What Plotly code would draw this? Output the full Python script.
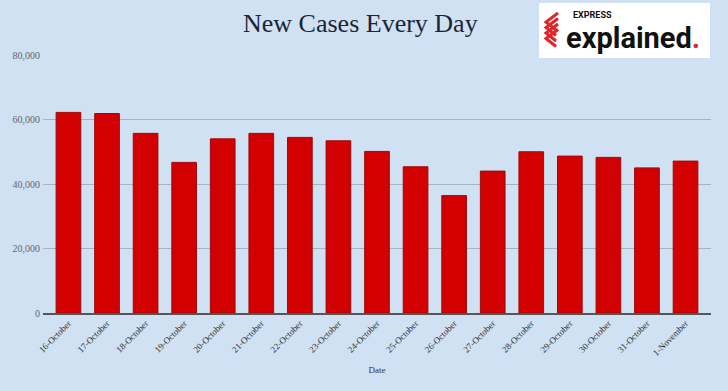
import plotly.graph_objects as go

dates = ["16-October", "17-October", "18-October", "19-October", "20-October",
         "21-October", "22-October", "23-October", "24-October", "25-October",
         "26-October", "27-October", "28-October", "29-October", "30-October",
         "31-October", "1-November"]
new_cases = [62200, 61850, 55700, 46700, 54000, 55700, 54450, 53400, 50100,
             45350, 36400, 44000, 50000, 48650, 48250, 45000, 47100]
y_ticks = [0, 20000, 40000, 60000, 80000]
y_tick_labels = ["0", "20,000", "40,000", "60,000", "80,000"]

BG = "#cfe1f3"
W, H = 728, 391
L, R, T, B = 43, 17, 55, 78
pw, ph = W - L - R, H - T - B

def px(x):
    return (x - L) / pw

def py(y):
    return (H - B - y) / ph

fig = go.Figure()
fig.add_trace(go.Bar(
    x=dates, y=new_cases,
    marker=dict(color="#d20000", line=dict(color="#9e0a0a", width=1)),
    width=0.64,
))

shapes = []
# logo box
shapes.append(dict(type="rect", xref="paper", yref="paper",
                   x0=px(539), x1=px(710), y0=py(58), y1=py(3),
                   fillcolor="white", line=dict(width=0), layer="above"))
# logo chevron stripes
for i in range(4):
    dy = i * 5.5
    path = "M {:.4f},{:.4f} L {:.4f},{:.4f} L {:.4f},{:.4f}".format(
        px(558), py(13 + dy), px(546), py(22 + dy), px(556), py(30 + dy))
    shapes.append(dict(type="path", xref="paper", yref="paper", path=path,
                       line=dict(color="#e0262b", width=3), layer="above"))

annotations = [
    dict(text="New Cases Every Day", xref="paper", yref="paper",
         x=px(360), y=py(23), xanchor="center", yanchor="middle",
         showarrow=False, font=dict(family="Liberation Serif", size=26, color="#1b2435")),
    dict(text="<b>EXPRESS</b>", xref="paper", yref="paper",
         x=px(571), y=py(15), xanchor="left", yanchor="middle",
         showarrow=False, font=dict(family="Roboto", size=9, color="#111111")),
    dict(text="<b>explained<span style='color:#e0262b'>.</span></b>", xref="paper", yref="paper",
         x=px(564), y=py(38), xanchor="left", yanchor="middle",
         showarrow=False, font=dict(family="Roboto", size=29, color="#111111")),
]

fig.update_layout(
    width=W, height=H,
    margin=dict(l=L, r=R, t=T, b=B),
    paper_bgcolor=BG, plot_bgcolor=BG,
    showlegend=False,
    shapes=shapes,
    annotations=annotations,
    xaxis=dict(
        range=[-0.66, 16.66],
        tickangle=-45,
        tickfont=dict(family="Liberation Serif", size=9, color="#333333"),
        showline=True, linecolor="#555555", linewidth=1.5,
        showgrid=False, ticks="",
        title=dict(text="Date", font=dict(family="Liberation Serif", size=9, color="#333333"),
                   standoff=10),
    ),
    yaxis=dict(
        range=[0, 80000],
        tickvals=y_ticks, ticktext=y_tick_labels,
        tickfont=dict(family="Liberation Serif", size=10, color="#666666"),
        ticklabelstandoff=2,
        showgrid=True, gridcolor="#a9b3bf", gridwidth=1,
        zeroline=False, ticks="", showline=False,
    ),
)

fig.write_html(
    "out.html",
    config={"displayModeBar": False},
    post_script="document.body.style.margin='0';document.body.style.background='%s';" % BG,
)
